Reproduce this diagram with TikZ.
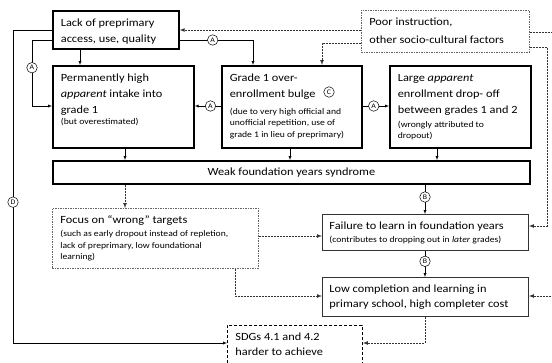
\documentclass[tikz,border=0pt]{standalone}
\usepackage{fontspec}
\setmainfont{Carlito}[FakeStretch=1.12]
\usetikzlibrary{arrows}

\newcommand{\boxtext}[3]{\parbox[t][#2][t]{#1}{\strut#3}}
\newcommand{\smalltext}[2][0pt]{\par\vspace{#1}{\fontsize{8.6}{11.5}\selectfont #2\par}}

\begin{document}
\begin{tikzpicture}
  [x=1pt,y=-1pt,>=latex,
   every node/.style={font=\fontsize{11}{16}\selectfont},
   thickbox/.style={draw,line width=1.7pt,anchor=north west,inner xsep=8pt,inner ysep=4pt},
   plainbox/.style={draw=black!80,line width=0.9pt,anchor=north west,inner xsep=7pt,inner ysep=4pt},
   dotbox/.style={draw=black!60,dash pattern=on 1.5pt off 1pt,line width=0.7pt,anchor=north west,inner xsep=8pt,inner ysep=4pt},
   sdgbox/.style={draw,dash pattern=on 3pt off 2pt,line width=0.9pt,anchor=north west,inner xsep=8pt,inner ysep=4pt},
   dashline/.style={black!80,dash pattern=on 2pt off 1pt,line width=0.7pt},
   lettercirc/.style={circle,draw,fill=white,inner sep=0pt,minimum size=10.5pt,line width=0.5pt,font=\fontsize{7}{8}\selectfont}]
  \useasboundingbox (0,0) rectangle (552,362);

  % boxes
  \node[thickbox] (lack) at (52,10) {\boxtext{110pt}{30pt}{Lack of preprimary\\access, use, quality}};
  \node[thickbox] (perm) at (52,65) {\boxtext{125pt}{74pt}{Permanently high\\\textit{apparent} intake into\\grade 1\smalltext{(but overestimated)}}};
  \node[thickbox] (grade1) at (221,65) {\boxtext{124pt}{74pt}{Grade 1 over-\\enrollment bulge\smalltext[5.5pt]{(due to very high official and\\unofficial repetition, use of\\grade 1 in lieu of preprimary)}}};
  \node[lettercirc] (cmark) at (329,92) {C};
  \node[thickbox] (large) at (389,65) {\boxtext{125pt}{74pt}{Large \textit{apparent}\\enrollment drop- off\\between grades 1 and 2\smalltext[2.5pt]{(wrongly attributed to\\dropout)}}};
  \node[dotbox] (poor) at (361,10) {\boxtext{152pt}{34pt}{\baselineskip=17.5pt Poor instruction,\\other socio-cultural factors}};
  \node[thickbox,inner sep=0pt,minimum width=477pt,minimum height=23pt] (weak) at (52,160) {Weak foundation years syndrome};
  \node[dotbox] (focus) at (52,208) {\boxtext{190pt}{52pt}{Focus on “wrong” targets\smalltext[1.5pt]{(such as early dropout instead of repletion,\\lack of preprimary, low foundational\\learning)}}};
  \node[plainbox] (fail) at (322,214) {\boxtext{192pt}{28pt}{Failure to learn in foundation years\smalltext[1.5pt]{(contributes to dropping out in \textit{later} grades)}}};
  \node[plainbox] (low) at (322,277) {\boxtext{192pt}{31pt}{\baselineskip=15pt Low completion and learning in\\primary school, high completer cost}};
  \node[sdgbox] (sdg) at (227,325) {\boxtext{119pt}{42pt}{\baselineskip=15pt SDGs 4.1 and 4.2\\harder to achieve}};

  % solid connectors
  \draw[->] (lack.west |- 0,30) -- (13,30) -- node[lettercirc,pos=.55] {D} (13,343) -- (sdg.west |- 0,343);
  \draw[->] (lack.west |- 0,40) -- (32,40) -- node[lettercirc,pos=.42] {A} (32,106) -- (perm.west |- 0,106);
  \draw[->] (lack.south -| 80,0) -- (perm.north -| 80,0);
  \draw[->] (lack.east |- 0,40) -- node[lettercirc,pos=.45] {A} (253,40) -- (grade1.north -| 253,0);
  \draw[->] (grade1.west |- 0,106) -- node[lettercirc,pos=.4] {A} (perm.east |- 0,106);
  \draw[->] (grade1.east |- 0,106) -- node[lettercirc,pos=.42] {A} (large.west |- 0,106);
  \foreach \bx/\x in {perm/125,grade1/290,large/437}
    \draw[->] (\bx.south -| \x,0) -- (weak.north -| \x,0);
  \draw[->] (weak.south -| 425,0) -- node[lettercirc,pos=.42] {B} (fail.north -| 425,0);
  \draw[->] (fail.south -| 425,0) -- node[lettercirc,pos=.4] {B} (low.north -| 425,0);

  % dashed connectors
  \draw[dashline,->] (poor.west |- 0,30) -- (lack.east |- 0,30);
  \draw[dashline,->] (poor.west |- 0,43) -- (322,43) -- (grade1.north -| 322,0);
  \draw[dashline,->] (weak.south -| 125,0) -- (focus.north -| 125,0);
  \draw[dashline,->] (focus.east |- 0,236) -- (fail.west |- 0,236);
  \draw[dashline,->] (focus.south -| 235,0) -- (235,296) -- (low.west |- 0,296);
  \draw[dashline,->] (low.south -| 425,0) -- (425,343) -- (sdg.east |- 0,343);
  \draw[dashline,->] (poor.east |- 0,32) -- (560,32) -- (560,296) -- (low.east |- 0,296);
  \draw[dashline,->] (poor.east |- 0,47) -- (547,47) -- (547,226) -- (fail.east |- 0,226);
\end{tikzpicture}
\end{document}
